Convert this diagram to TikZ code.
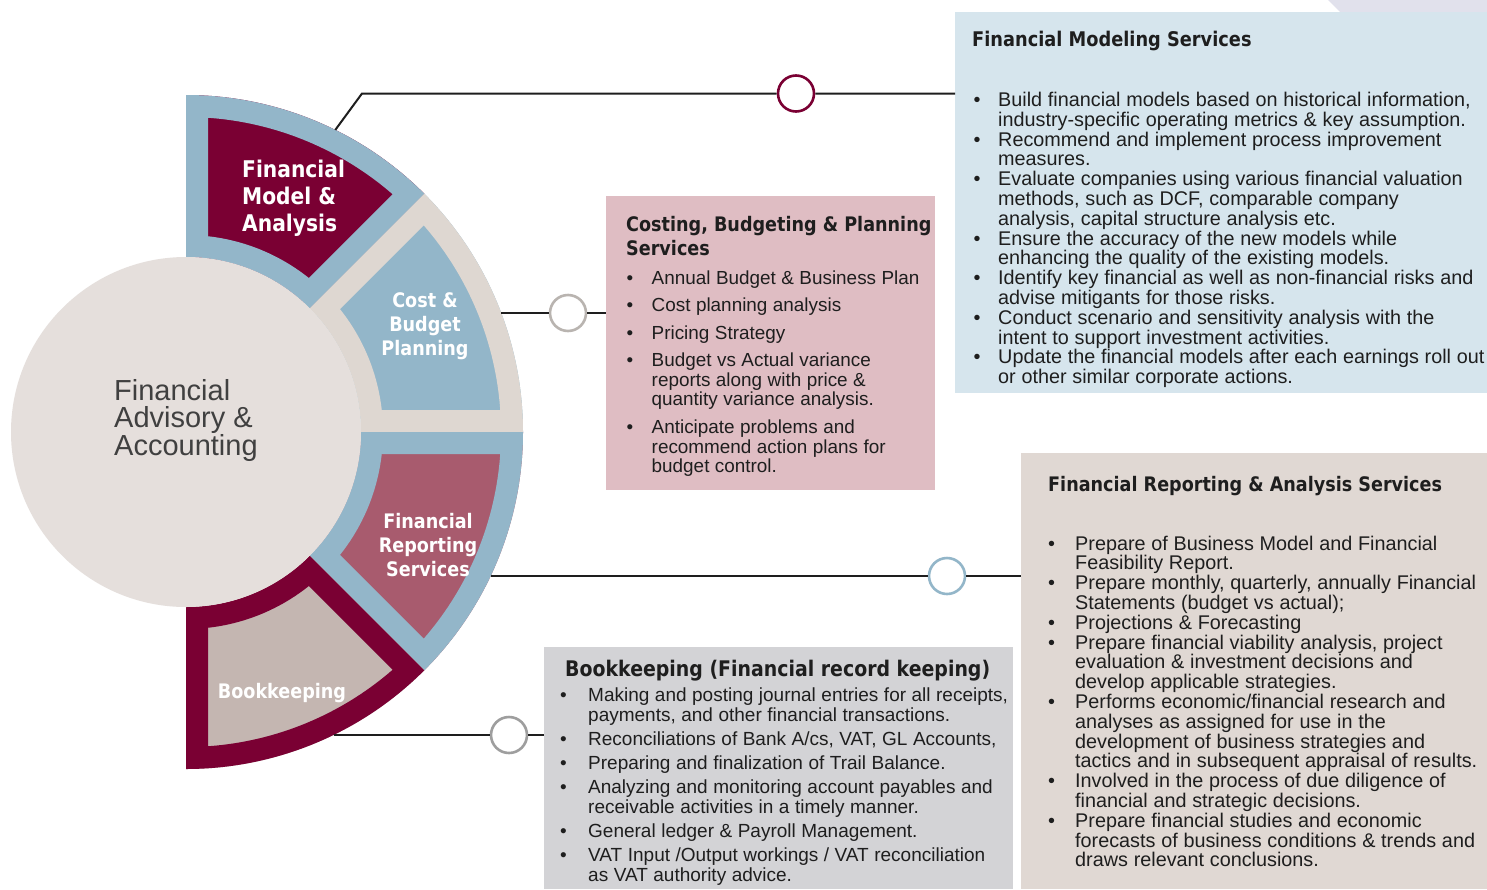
\documentclass[tikz,border=0pt]{standalone}
\usepackage{fontspec}
\setmainfont{Liberation Sans}
\newfontfamily\headfont{DejaVu Sans}[FakeStretch=0.88]
\usetikzlibrary{positioning, calc}

\definecolor{wine}{HTML}{7A0033}
\definecolor{steel}{HTML}{93B6C9}
\definecolor{sand}{HTML}{DED7D1}
\definecolor{rosewood}{HTML}{A85B6E}
\definecolor{taupe}{HTML}{C4B6B1}
\definecolor{hubgrey}{HTML}{E5DFDC}
\definecolor{iceblue}{HTML}{D6E5ED}
\definecolor{blush}{HTML}{DFBDC3}
\definecolor{linen}{HTML}{E0D8D3}
\definecolor{mist}{HTML}{D3D3D6}
\definecolor{lilac}{HTML}{E1E1EC}
\definecolor{ink}{HTML}{1E1E1E}
\definecolor{slate}{HTML}{404040}

\newlength{\bulw}
% size, line distance, bullet indent
\newcommand{\listfont}[3]{\fontsize{#1}{#2}\selectfont\spaceskip=.29em plus .1em\relax\setlength{\bulw}{#3}}
\newcommand{\bul}[1]{\noindent\hangindent=\bulw\hangafter=1\makebox[\bulw][l]{\textbullet}#1\par}

\tikzset{
  card/.style={anchor=north west, inner sep=0pt, outer sep=0pt},
  cardtitle/.style={anchor=base west, inner sep=0pt, text=ink, align=left},
  cardlist/.style={anchor=base west, inner sep=0pt, text=ink, text width=#1},
  seglabel/.style={inner sep=0pt, text=white, font=\headfont\bfseries\fontsize{20}{24}\selectfont},
  link/.style={draw=ink, line width=2pt},
  marker/.style={circle, fill=white, line width=2.6pt, minimum size=36pt, inner sep=0pt},
}

\begin{document}
\begin{tikzpicture}[x=1pt, y=-1pt]
    \useasboundingbox (0,0) rectangle (1487,889);
    \fill[white] (0,0) rectangle (1487,889);

    % text cards
    \fill[lilac] (1328,0) -- (1487,0) -- (1487,12) -- (1340,12) -- cycle;
    \node[card, fill=iceblue, minimum width=532pt, minimum height=381pt] (fms) at (955,12) {};
    \node[card, fill=blush, minimum width=329pt, minimum height=294pt] (cbp) at (606,196) {};
    \node[card, fill=linen, minimum width=466pt, minimum height=436pt] (fra) at (1021,453) {};
    \node[card, fill=mist, minimum width=469pt, minimum height=242pt] (bkc) at (544,647) {};

    % wheel
    \begin{scope}[shift={(186,432)}]
    \foreach \a/\b/\edge/\core in {-90/-45/steel/wine, -45/0/sand/steel, 0/45/steel/rosewood, 45/90/wine/taupe}{
      \begin{scope}
        \clip (\a:175) arc[start angle=\a, end angle=\b, radius=175] -- (\b:337) arc[start angle=\b, end angle=\a, radius=337] -- cycle;
        \fill[\core] (-350,-350) rectangle (350,350);
        \draw[\edge, line width=44pt] (\a:175) arc[start angle=\a, end angle=\b, radius=175] -- (\b:337) arc[start angle=\b, end angle=\a, radius=337] -- cycle;
      \end{scope}
    }
    \end{scope}
    \node[circle, fill=hubgrey, minimum size=350pt, inner sep=0pt] (hub) at (186,432) {};
    \node[anchor=base west, inner sep=0pt, align=left, text=slate, font=\fontsize{29}{27.5}\selectfont] (hublabel) at (114,455) {Financial\\Advisory \&\\Accounting};

    \node[seglabel, anchor=base west, align=left, font=\headfont\bfseries\fontsize{23}{27}\selectfont] (fmalabel) at (242,231) {Financial\\Model \&\\Analysis};
    \node[seglabel, anchor=base, align=center] (cbplabel) at (425,355) {Cost \&\\Budget\\Planning};
    \node[seglabel, anchor=base, align=center] (frslabel) at (428,576) {Financial\\Reporting\\Services};
    \node[seglabel, anchor=base] (bklabel) at (282,698) {Bookkeeping};

    % connectors
    \coordinate (p1) at (335.3,129.9);
    \coordinate (k1) at (362,93.5);
    \coordinate (p2) at (501,313);
    \coordinate (p3) at (491,576);
    \coordinate (p4) at (333.5,735);
    \node[marker, draw=wine] (m1) at (796,93.5) {};
    \node[marker, draw=sand!80!black!90] (m2) at (568,313) {};
    \node[marker, draw=steel] (m3) at (947,576) {};
    \node[marker, draw=black!38] (m4) at (509,735) {};
    \draw[link] (p1) -- (k1) -- (m1) (m1) -- (m1 -| fms.west);
    \draw[link] (p2) -- (m2) (m2) -- (m2 -| cbp.west);
    \draw[link] (p3) -- (m3) (m3) -- (m3 -| fra.west);
    \draw[link] (p4) -- (m4) (m4) -- (m4 -| bkc.west);

    % card texts
    \node[cardtitle, font=\headfont\bfseries\fontsize{20.2}{23.5}\selectfont] (fmstitle) at (972,46) {Financial Modeling Services};
    \node[cardlist=520pt] (fmslist) at (973.5,106.5) {\listfont{19.8}{19.8}{24.5pt}%
      \bul{Build financial models based on historical information,\newline industry-specific operating metrics \& key assumption.}
      \bul{Recommend and implement process improvement\newline measures.}
      \bul{Evaluate companies using various financial valuation\newline methods, such as DCF, comparable company\newline analysis, capital structure analysis etc.}
      \bul{Ensure the accuracy of the new models while\newline enhancing the quality of the existing models.}
      \bul{Identify key financial as well as non-financial risks and\newline advise mitigants for those risks.}
      \bul{Conduct scenario and sensitivity analysis with the\newline intent to support investment activities.}
      \bul{Update the financial models after each earnings roll out\newline or other similar corporate actions.}};

    \node[cardtitle, font=\headfont\bfseries\fontsize{20}{23.5}\selectfont] (cbptitle) at (626,255) {Costing, Budgeting \& Planning\\Services};
    \node[cardlist=320pt] (cbplist) at (626.5,284.3) {\listfont{18.9}{19.7}{25pt}\setlength{\parskip}{7.7pt}%
      \bul{Annual Budget \& Business Plan}
      \bul{Cost planning analysis}
      \bul{Pricing Strategy}
      \bul{Budget vs Actual variance\newline reports along with price \&\newline quantity variance analysis.}
      \bul{Anticipate problems and\newline recommend action plans for\newline budget control.}};

    \node[cardtitle, font=\headfont\bfseries\fontsize{20}{23.5}\selectfont] (fratitle) at (1048,491.7) {Financial Reporting \& Analysis Services};
    \node[cardlist=480pt] (fralist) at (1048,550) {\listfont{19.8}{19.8}{27pt}%
      \bul{Prepare of Business Model and Financial\newline Feasibility Report.}
      \bul{Prepare monthly, quarterly, annually Financial\newline Statements (budget vs actual);}
      \bul{Projections \& Forecasting}
      \bul{Prepare financial viability analysis, project\newline evaluation \& investment decisions and\newline develop applicable strategies.}
      \bul{Performs economic/financial research and\newline analyses as assigned for use in the\newline development of business strategies and\newline tactics and in subsequent appraisal of results.}
      \bul{Involved in the process of due diligence of\newline financial and strategic decisions.}
      \bul{Prepare financial studies and economic\newline forecasts of business conditions \& trends and\newline draws relevant conclusions.}};

    \node[cardtitle, font=\headfont\bfseries\fontsize{21.5}{24}\selectfont] (bktitle) at (565,676.7) {Bookkeeping (Financial record keeping)};
    \node[cardlist=480pt] (bklist) at (560,701.7) {\listfont{19}{19.3}{28pt}\setlength{\parskip}{5pt}%
      \bul{Making and posting journal entries for all receipts,\newline payments, and other financial transactions.}
      \bul{Reconciliations of Bank A/cs, VAT, GL Accounts,}
      \bul{Preparing and finalization of Trail Balance.}
      \bul{Analyzing and monitoring account payables and\newline receivable activities in a timely manner.}
      \bul{General ledger \& Payroll Management.}
      \bul{VAT Input /Output workings / VAT reconciliation\newline as VAT authority advice.}};
\end{tikzpicture}
\end{document}
